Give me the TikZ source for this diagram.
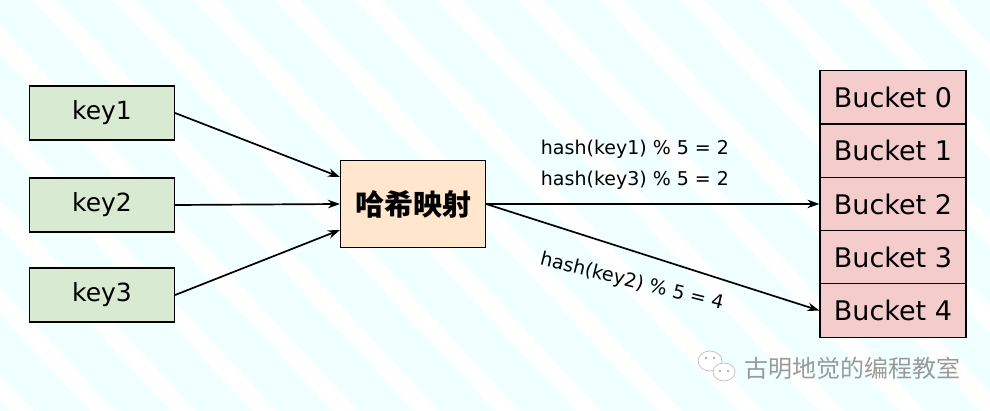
\documentclass[tikz,border=0pt]{standalone}
\usepackage{fontspec}
\setmainfont{DejaVu Sans}
\newfontfamily\cjk{Noto Sans CJK SC}
\usetikzlibrary{arrows.meta}
\definecolor{keygreen}{HTML}{D9EAD3}
\definecolor{bucketred}{HTML}{F4CCCC}
\definecolor{hashorange}{HTML}{FFE6CC}
\definecolor{stripecyan}{HTML}{F0FFFF}
\definecolor{wmgray}{HTML}{9A9A9A}
\begin{document}
\begin{tikzpicture}[x=1pt,y=-1pt,
 box/.style={draw=black,line width=1.2pt,inner sep=0pt},
 keybox/.style={box,fill=keygreen,minimum width=145pt,minimum height=54pt,font=\fontsize{25}{28}\selectfont},
 bucketbox/.style={box,fill=bucketred,minimum width=146pt,minimum height=53.3pt,font=\fontsize{27}{30}\selectfont},
 hashbox/.style={box,fill=hashorange,minimum width=145pt,minimum height=87pt,font=\cjk\bfseries\fontsize{29}{32}\selectfont},
 conn/.style={line width=1.7pt,-{Stealth[length=12pt,width=8.5pt]}},
 lbl/.style={font=\fontsize{19}{22}\selectfont,inner sep=0pt}]
\useasboundingbox (0,0) rectangle (990,411);
\begin{scope}
\clip (0,0) rectangle (990,411);
\fill[white] (0,0) rectangle (990,411);
\foreach \k in {-6,...,12} {
  \fill[stripecyan] ({57+81*\k},0) -- ({113+81*\k},0) -- ({113+81*\k+382},411) -- ({57+81*\k+382},411) -- cycle;
}
\end{scope}

\node[keybox] (k1) at (102,113) {key1};
\node[keybox] (k2) at (102,205) {key2};
\node[keybox] (k3) at (102,295) {key3};

\node[hashbox] (hm) at (413,204) {哈希映射};

\foreach \i in {0,...,4} {
  \node[bucketbox] (b\i) at (893,{97.35+53.3*\i}) {Bucket \i};
}

\draw[conn] (k1.east) -- ([yshift=27pt]hm.west);
\draw[conn] (k2.east) -- (hm.west);
\draw[conn] (k3.east) -- ([yshift=-26pt]hm.west);
\draw[conn] (hm.east) -- (b2.west);
\draw[conn] (hm.east) -- (b4.west);

\node[lbl] (l1) at (635,149) {hash(key1) \% 5 = 2};
\node[lbl] (l3) at (635,180) {hash(key3) \% 5 = 2};
\node[lbl,rotate=-14] (l2) at (632,282) {hash(key2) \% 5 = 4};

% watermark
\draw[wmgray!70,fill=white,line width=0.6pt] (710,361) ellipse (12 and 10);
\draw[wmgray!70,fill=white,line width=0.6pt] (724,372) ellipse (11 and 9);
\fill[wmgray] (706,358) circle (1.1) (714,358) circle (1.1) (720,371) circle (1.1) (728,371) circle (1.1);
\node[font=\cjk\fontsize{24}{27}\selectfont,text=wmgray,anchor=west,inner sep=0pt] (wm) at (744,368) {古明地觉的编程教室};
\end{tikzpicture}
\end{document}
